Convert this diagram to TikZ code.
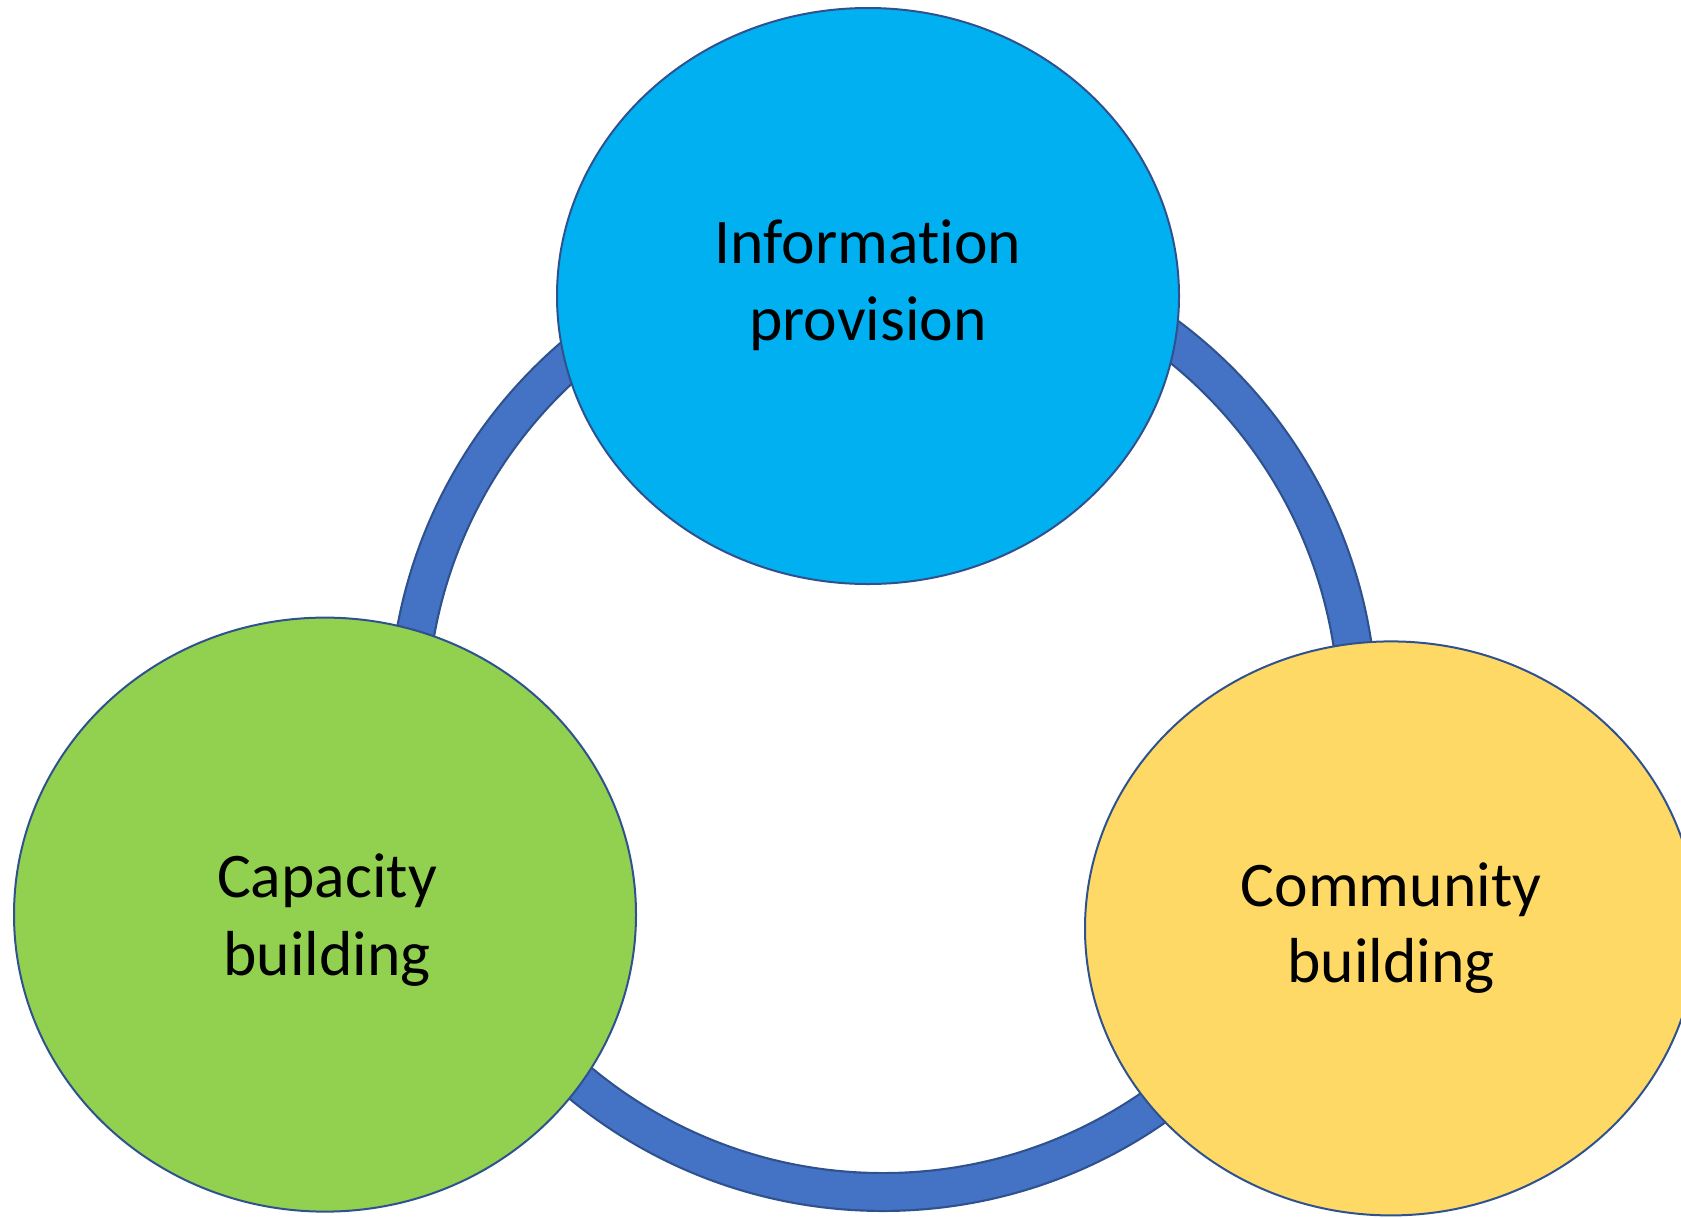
\documentclass[tikz,border=0pt]{standalone}
\usepackage{fontspec}
\setmainfont{Carlito}[RawFeature={-liga;-dlig;-clig}]
\usetikzlibrary{shapes.geometric}
\definecolor{ringfill}{HTML}{4472C4}
\definecolor{edgeblue}{HTML}{2F528F}
\definecolor{infofill}{HTML}{00B0F0}
\definecolor{capfill}{HTML}{92D050}
\definecolor{comfill}{HTML}{FFD966}
\tikzset{
  blob/.style={ellipse, draw=edgeblue, line width=1pt, inner sep=0pt, outer sep=0pt},
  lbl/.style={anchor=base, inner sep=0pt, font=\fontsize{31.8pt}{38.5pt}\selectfont, text=black},
}
\begin{document}
\begin{tikzpicture}[x=0.5pt,y=-0.5pt]
\useasboundingbox (0,0) rectangle (1681,1217);
% ring
\coordinate (rc) at (883,717);
\draw[edgeblue, line width=20pt] (rc) circle[radius=237.5pt];
\draw[ringfill, line width=17.8pt] (rc) circle[radius=237.5pt];
% ellipses
\node[blob, fill=infofill, minimum width=311pt, minimum height=288pt] (info) at (868,296) {};
\node[blob, fill=capfill, minimum width=311pt, minimum height=297pt] (cap) at (325,914.6) {};
\node[blob, fill=comfill, minimum width=306pt, minimum height=287pt] (com) at (1391,928.4) {};
% labels
\node[lbl] (infoA) at (868,263) {Information};
\node[lbl] (infoB) at (868,340) {provision};
\node[lbl] (capA) at (327,897) {Capacity};
\node[lbl] (capB) at (327,975) {building};
\node[lbl] (comA) at (1391,906) {Community};
\node[lbl] (comB) at (1391,982) {building};
\end{tikzpicture}
\end{document}
